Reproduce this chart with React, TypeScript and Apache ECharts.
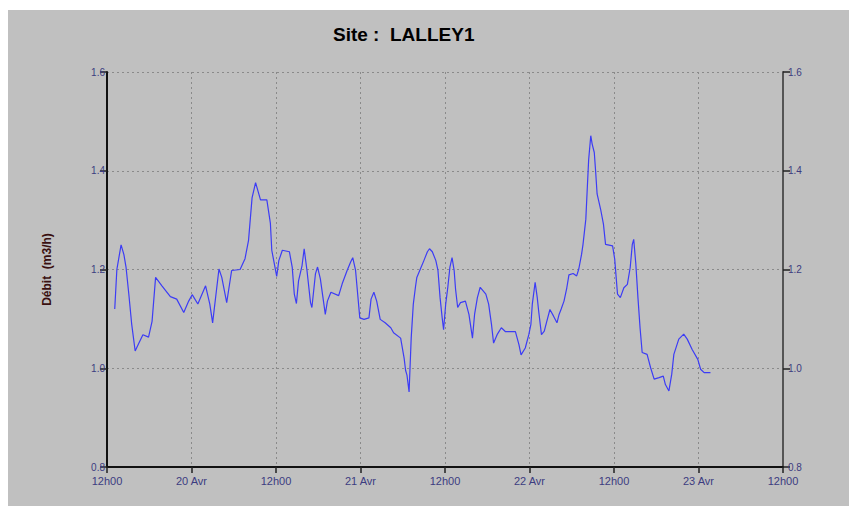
import React, { useEffect, useRef } from "react";
import * as echarts from "echarts";

// hours since 19 Avr 12h00
const hours = [
  1.1, 1.4, 2.0, 2.4, 2.7, 3.1, 3.5, 4.0, 4.5, 5.1, 5.9, 6.4, 6.9, 7.8, 9.0, 9.9, 10.9, 11.6, 12.1, 12.9,
  14.0, 14.6, 15.0, 15.9, 16.3, 17.0, 17.7, 18.9, 19.6, 20.1, 20.6, 21.1,
  21.8, 22.7, 23.2, 23.4, 24.1, 24.4, 24.9, 25.9, 26.3, 26.6, 26.9, 27.2, 27.7, 28.0, 28.4, 28.9, 29.1,
  29.6, 29.9, 30.3, 30.8, 31.0, 31.3, 31.8, 32.9, 33.4, 34.1, 34.6, 34.9, 35.3, 35.6, 35.9, 36.5, 37.2,
  37.5, 37.9, 38.3, 38.8, 39.5, 40.3, 40.7, 41.7, 42.2, 42.4, 42.6, 42.9, 43.2, 43.5,
  43.8, 44.0, 44.5, 45.0, 45.5, 45.8, 46.2, 46.7, 47.0, 47.3, 47.6, 47.8, 48.1, 48.4, 48.7, 49.0, 49.3,
  49.5, 49.8, 50.2, 50.9, 51.4, 51.9, 52.2, 52.6, 53.0, 53.8, 54.2, 54.6, 54.9, 55.4, 56.0, 56.6, 58.0,
  58.5, 58.8, 59.4, 59.9, 60.2, 60.4, 60.8, 61.1, 61.3, 61.7, 62.1, 62.4, 62.9, 63.4, 63.9, 64.2, 64.5, 64.9,
  65.3, 65.6, 66.2, 66.7, 67.0, 67.4, 67.6, 68.0, 68.2, 68.4, 68.7, 68.9, 69.2, 69.4, 69.6, 70.1, 70.5,
  70.8, 71.8, 72.1, 72.5, 72.9, 73.4, 73.9, 74.3, 74.6, 74.8, 75.1, 75.4, 75.7, 76.0, 76.7, 77.2, 77.7,
  78.4, 79.0, 79.3, 79.8, 80.2, 80.5, 81.2, 81.9, 82.4, 83.1, 83.9, 84.3, 84.8, 85.7,
];

// Débit (m3/h)
const debit = [
  1.12, 1.2, 1.25, 1.23, 1.205, 1.15, 1.09, 1.035, 1.05, 1.068, 1.063, 1.095, 1.184, 1.167, 1.145, 1.14, 1.113, 1.136, 1.149, 1.13,
  1.167, 1.13, 1.092, 1.201, 1.184, 1.133, 1.198, 1.2, 1.222, 1.259, 1.345, 1.376,
  1.341, 1.341, 1.294, 1.239, 1.186, 1.218, 1.239, 1.236, 1.205, 1.15, 1.131, 1.177, 1.208, 1.242, 1.198, 1.133, 1.123,
  1.191, 1.205, 1.181, 1.13, 1.109, 1.136, 1.154, 1.147, 1.171, 1.198, 1.215, 1.224, 1.198, 1.15, 1.102, 1.099, 1.102,
  1.14, 1.154, 1.136, 1.099, 1.092, 1.082, 1.072, 1.061, 1.02, 0.996, 0.986, 0.952, 1.061, 1.13,
  1.164, 1.184, 1.201, 1.218, 1.236, 1.242, 1.236, 1.218, 1.198, 1.143, 1.102, 1.078, 1.13, 1.164, 1.205, 1.224, 1.198,
  1.16, 1.123, 1.133, 1.136, 1.109, 1.061, 1.109, 1.143, 1.164, 1.15, 1.13, 1.089, 1.051, 1.068, 1.082, 1.074, 1.074,
  1.048, 1.027, 1.041, 1.068, 1.089, 1.13, 1.174, 1.143, 1.116, 1.068, 1.075, 1.092, 1.119, 1.106, 1.092, 1.109, 1.12, 1.136,
  1.163, 1.189, 1.192, 1.187, 1.201, 1.231, 1.251, 1.302, 1.363, 1.422, 1.471, 1.454, 1.437, 1.397, 1.353, 1.322, 1.292,
  1.251, 1.248, 1.221, 1.15, 1.143, 1.163, 1.17, 1.204, 1.251, 1.261, 1.211, 1.143, 1.082, 1.032, 1.028, 1.001, 0.978,
  0.981, 0.984, 0.967, 0.954, 0.988, 1.028, 1.059, 1.069, 1.059, 1.038, 1.018, 0.998, 0.991, 0.991,
];

const xTickLabels = ["12h00", "20 Avr", "12h00", "21 Avr", "12h00", "22 Avr", "12h00", "23 Avr", "12h00"];
const titleText = "Site :  LALLEY1";
const yName = "Débit  (m3/h)";

export default function App() {
  const ref = useRef<HTMLDivElement>(null);
  useEffect(() => {
    if (!ref.current) return;
    const chart = echarts.init(ref.current, undefined, { renderer: "svg" });
    const labelColor = "#3c3c80";
    const splitLine = { show: true, lineStyle: { color: "#8a8a8a", type: [2, 3] as any, width: 1 } };
    const yCommon = {
      type: "value" as const,
      min: 0.8,
      max: 1.6,
      interval: 0.2,
      splitLine,
      axisTick: { show: true, length: 7, lineStyle: { color: "#222", width: 1.5 } },
      axisLabel: {
        color: labelColor,
        fontSize: 10,
        fontFamily: "Liberation Sans, Arial",
        formatter: (v: number) => v.toFixed(1),
      },
    };
    chart.setOption({
      animation: false,
      backgroundColor: "#c0c0c0",
      graphic: [
        {
          type: "text",
          left: 325,
          top: 15,
          style: {
            text: titleText,
            font: "bold 19px 'Liberation Sans', Arial",
            fill: "#000",
          },
        },
      ],
      grid: { left: 99, right: 66, top: 62, bottom: 39, containLabel: false },
      xAxis: {
        type: "value",
        min: 0,
        max: 96,
        interval: 12,
        splitLine,
        axisLine: { show: true, onZero: false, lineStyle: { color: "#111", width: 2 } },
        axisTick: { show: true, length: 6, lineStyle: { color: "#222", width: 1.5 } },
        axisLabel: {
          color: labelColor,
          fontSize: 11,
          fontFamily: "Liberation Sans, Arial",
          margin: 8,
          formatter: (v: number) => xTickLabels[Math.round(v / 12)] ?? "",
        },
      },
      yAxis: [
        {
          ...yCommon,
          position: "left",
          name: yName,
          nameLocation: "middle",
          nameGap: 54,
          nameTextStyle: { color: "#3a1010", fontSize: 12, fontWeight: "bold", fontFamily: "Liberation Sans, Arial" },
          axisLine: { show: true, lineStyle: { color: "#111", width: 2 } },
          axisLabel: { ...yCommon.axisLabel, margin: 2 },
        },
        {
          ...yCommon,
          position: "right",
          splitLine: { show: false },
          axisLine: { show: true, lineStyle: { color: "#555", width: 2 } },
          axisLabel: { ...yCommon.axisLabel, margin: 5 },
        },
      ],
      series: [
        {
          type: "line",
          yAxisIndex: 0,
          data: hours.map((h, i) => [h, debit[i]]),
          showSymbol: false,
          lineStyle: { color: "#3c3cf5", width: 1.2 },
        },
      ],
    });
    return () => chart.dispose();
  }, []);
  return (
    <div style={{ position: "fixed", left: 0, top: 0, width: 857, height: 506, background: "#fff" }}>
      <div ref={ref} style={{ position: "absolute", left: 8, top: 10, width: 841, height: 496 }} />
    </div>
  );
}
